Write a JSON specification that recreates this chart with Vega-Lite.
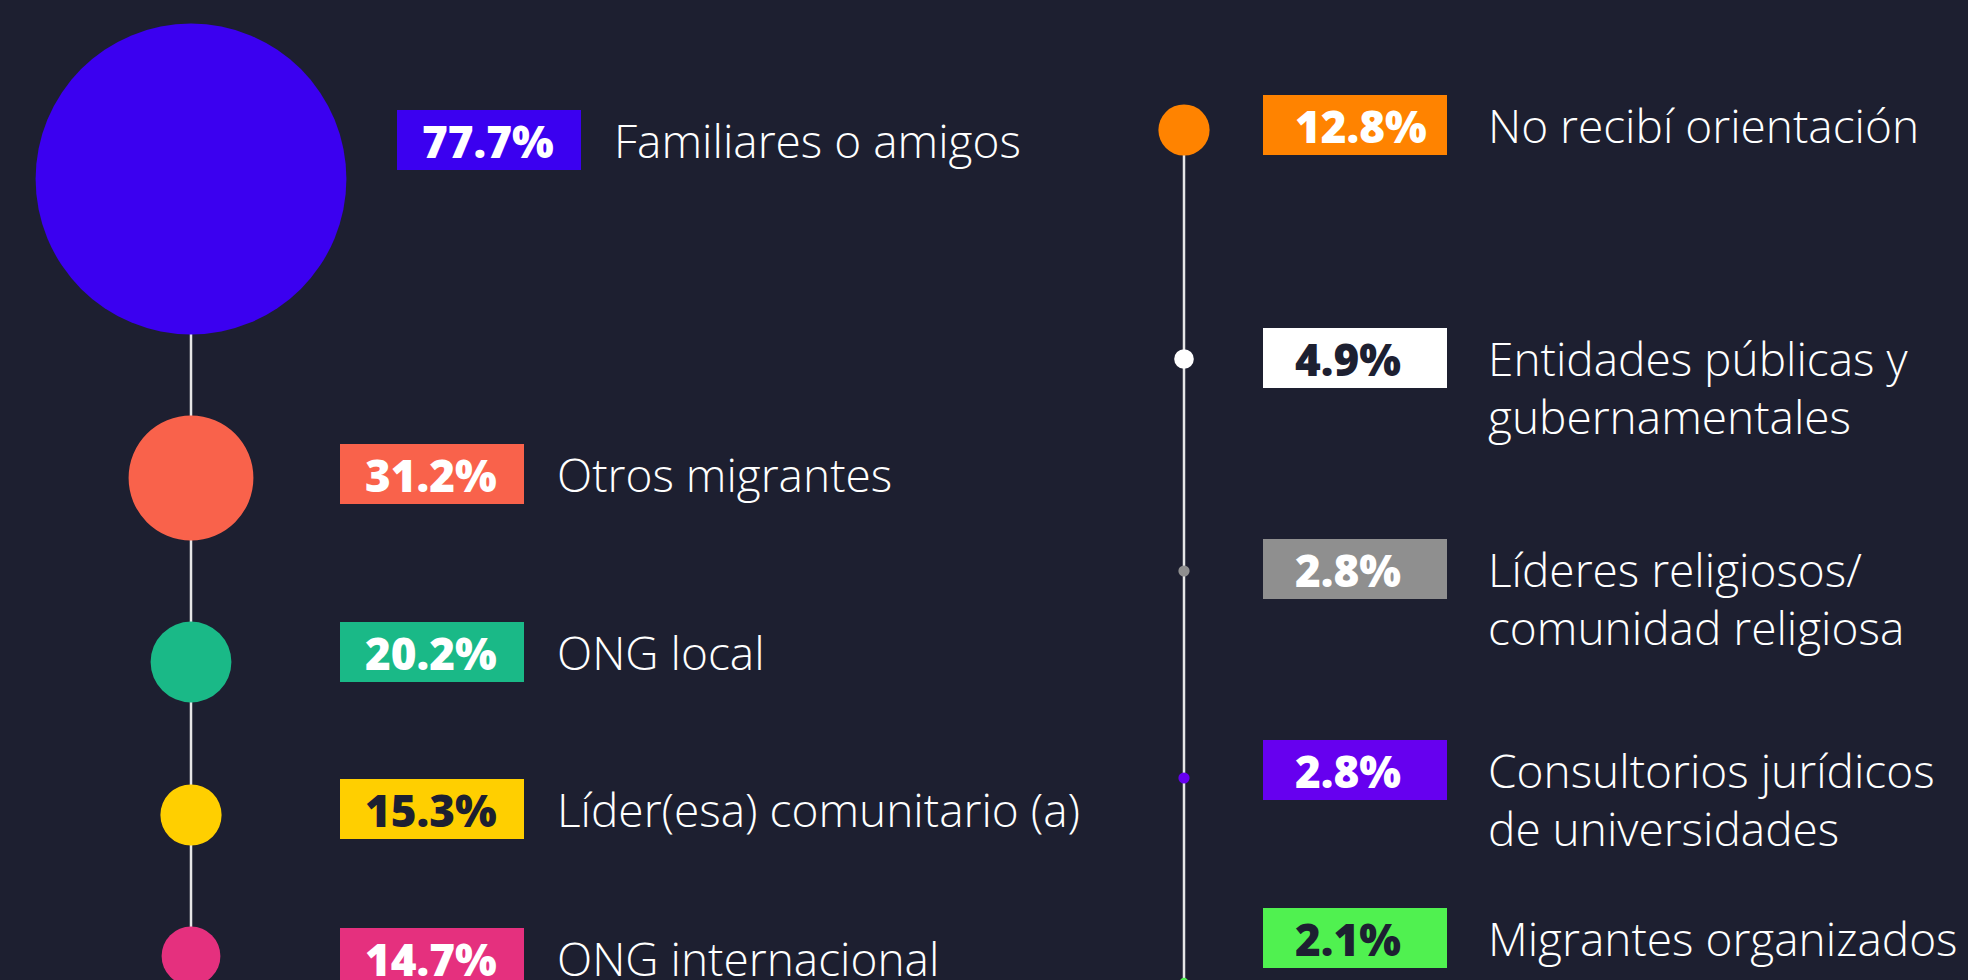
{
  "$schema": "https://vega.github.io/schema/vega-lite/v6.json",
  "width": 1968,
  "height": 980,
  "padding": 0,
  "autosize": {"type": "none"},
  "background": "#1d1f30",
  "config": {"view": {"stroke": null}, "font": "Open Sans"},
  "data": {
    "values": [
      {"rank": 1, "col": "A", "label": "Familiares o amigos", "share": 0.777},
      {"rank": 2, "col": "A", "label": "Otros migrantes", "share": 0.312},
      {"rank": 3, "col": "A", "label": "ONG local", "share": 0.202},
      {"rank": 4, "col": "A", "label": "Líder(esa) comunitario (a)", "share": 0.153},
      {"rank": 5, "col": "A", "label": "ONG internacional", "share": 0.147},
      {"rank": 6, "col": "B", "label": "No recibí orientación", "share": 0.128},
      {"rank": 7, "col": "B", "label": "Entidades públicas y\ngubernamentales", "share": 0.049},
      {"rank": 8, "col": "B", "label": "Líderes religiosos/\ncomunidad religiosa", "share": 0.028},
      {"rank": 9, "col": "B", "label": "Consultorios jurídicos\nde universidades", "share": 0.028},
      {"rank": 10, "col": "B", "label": "Migrantes organizados", "share": 0.021}
    ]
  },
  "layer": [
    {
      "mark": {"type": "rule", "color": "#e6e6e6", "strokeWidth": 2.5},
      "encoding": {
        "x": {"aggregate": "min", "field": "rank", "type": "quantitative", "axis": null,
              "scale": {"domain": [1,2,3,4,5,6,7,8,9,10], "range": [191,191,191,191,191,1184,1184,1184,1184,1184], "nice": false, "zero": false}},
        "y": {"aggregate": "min", "field": "rank", "type": "quantitative", "axis": null,
              "scale": {"domain": [1,2,3,4,5,6,7,8,9,10], "range": [179,478,662,815,956,130,359,571,778,982], "nice": false, "zero": false}},
        "y2": {"aggregate": "max", "field": "rank"},
        "detail": {"field": "col", "type": "nominal"}
      }
    },
    {
      "mark": {"type": "circle", "opacity": 1},
      "encoding": {
        "x": {"field": "rank", "type": "quantitative", "axis": null,
              "scale": {"domain": [1,2,3,4,5,6,7,8,9,10], "range": [191,191,191,191,191,1184,1184,1184,1184,1184], "nice": false, "zero": false}},
        "y": {"field": "rank", "type": "quantitative", "axis": null,
              "scale": {"domain": [1,2,3,4,5,6,7,8,9,10], "range": [179,478,662,815,956,130,359,571,778,982], "nice": false, "zero": false}},
        "size": {"field": "share", "type": "quantitative", "legend": null,
                 "scale": {"type": "pow", "exponent": 2, "domain": [0, 1], "range": [0, 160000]}},
        "color": {"field": "rank", "type": "nominal", "legend": null,
                  "scale": {"domain": [1,2,3,4,5,6,7,8,9,10], "range": ["#3b00f0","#f9624b","#1ab987","#ffcf00","#e5307e","#ff8300","#ffffff","#8f8f8f","#6600ef","#50f150"]}}
      }
    },
    {
      "mark": {"type": "rect", "width": 184, "height": 60},
      "encoding": {
        "x": {"field": "rank", "type": "quantitative", "axis": null,
              "scale": {"domain": [1,2,3,4,5,6,7,8,9,10], "range": [489,432,432,432,432,1355,1355,1355,1355,1355], "nice": false, "zero": false}},
        "y": {"field": "rank", "type": "quantitative", "axis": null,
              "scale": {"domain": [1,2,3,4,5,6,7,8,9,10], "range": [140,474,652,809,958,125,358,569,770,938], "nice": false, "zero": false}},
        "color": {"field": "rank", "type": "nominal", "legend": null,
                  "scale": {"domain": [1,2,3,4,5,6,7,8,9,10], "range": ["#3b00f0","#f9624b","#1ab987","#ffcf00","#e5307e","#ff8300","#ffffff","#8f8f8f","#6600ef","#50f150"]}}
      }
    },
    {
      "mark": {"type": "text", "align": "left", "baseline": "alphabetic", "fontSize": 44, "fontWeight": 800, "font": "Open Sans"},
      "encoding": {
        "x": {"field": "rank", "type": "quantitative", "axis": null,
              "scale": {"domain": [1,2,3,4,5,6,7,8,9,10], "range": [422,365,365,365,365,1295,1295,1295,1295,1295], "nice": false, "zero": false}},
        "y": {"field": "rank", "type": "quantitative", "axis": null,
              "scale": {"domain": [1,2,3,4,5,6,7,8,9,10], "range": [158,492,670,827,976,143,376,587,788,956], "nice": false, "zero": false}},
        "text": {"field": "share", "type": "quantitative", "format": ".1%"},
        "color": {"condition": {"test": "datum.rank == 4 || datum.rank == 7 || datum.rank == 10", "value": "#1d2031"}, "value": "#ffffff"}
      }
    },
    {
      "mark": {"type": "text", "align": "left", "baseline": "alphabetic", "fontSize": 46, "fontWeight": 300, "font": "Open Sans", "color": "#ffffff", "lineBreak": "\n", "lineHeight": 58},
      "encoding": {
        "x": {"field": "rank", "type": "quantitative", "axis": null,
              "scale": {"domain": [1,2,3,4,5,6,7,8,9,10], "range": [614,557,557,557,557,1488,1488,1488,1488,1488], "nice": false, "zero": false}},
        "y": {"field": "rank", "type": "quantitative", "axis": null,
              "scale": {"domain": [1,2,3,4,5,6,7,8,9,10], "range": [158,492,670,827,976,143,376,587,788,956], "nice": false, "zero": false}},
        "text": {"field": "label", "type": "nominal"}
      }
    }
  ],
  "resolve": {"scale": {"x": "independent", "y": "independent", "color": "independent"}}
}
